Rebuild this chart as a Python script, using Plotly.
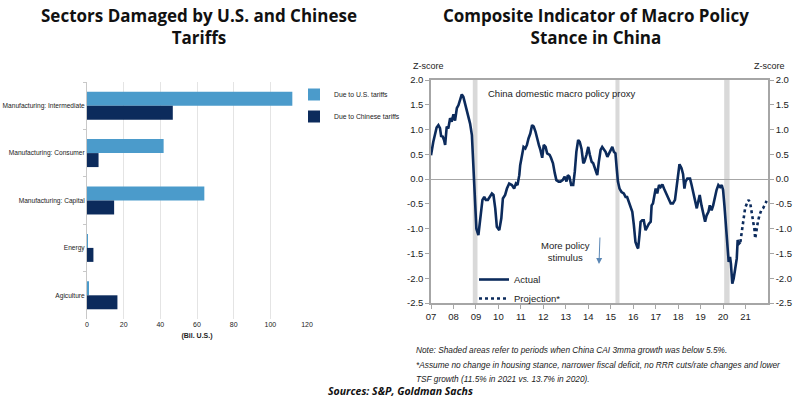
import plotly.graph_objects as go

# ---------------- Left chart data ----------------
sectors = ["Manufacturing: Intermediate", "Manufacturing: Consumer",
           "Manufacturing: Capital", "Energy", "Agiculture"]
us_tariffs = [112, 41.8, 64, 0.4, 0.8]
cn_tariffs = [46.8, 6.3, 14.8, 3.5, 16.6]
bar_ticks = [0, 20, 40, 60, 80, 100, 120]

# ---------------- Right chart data ----------------
actual_x = [2007.00, 2007.10, 2007.25, 2007.33, 2007.40, 2007.45, 2007.52, 2007.58, 2007.63, 2007.70,
            2007.77, 2007.85, 2007.92, 2008.00, 2008.07, 2008.15, 2008.22, 2008.30, 2008.37, 2008.44,
            2008.52, 2008.64, 2008.74, 2008.82, 2008.86, 2008.92, 2008.96, 2009.02, 2009.11, 2009.19,
            2009.29, 2009.37, 2009.44, 2009.53, 2009.63, 2009.71, 2009.78, 2009.86, 2009.93, 2010.04,
            2010.13, 2010.20, 2010.30, 2010.38, 2010.48, 2010.60, 2010.70, 2010.78, 2010.85, 2010.93,
            2010.97, 2011.05, 2011.12, 2011.20, 2011.27, 2011.34, 2011.42, 2011.50, 2011.57, 2011.65,
            2011.72, 2011.80, 2011.87, 2011.95, 2012.02, 2012.10, 2012.17, 2012.28, 2012.34, 2012.43,
            2012.51, 2012.58, 2012.68, 2012.76, 2012.86, 2012.95, 2013.03, 2013.09, 2013.16, 2013.24,
            2013.33, 2013.40, 2013.47, 2013.55, 2013.62, 2013.70, 2013.78, 2013.83, 2013.92, 2014.00,
            2014.07, 2014.15, 2014.22, 2014.32, 2014.40, 2014.47, 2014.55, 2014.62, 2014.70, 2014.77,
            2014.85, 2014.92, 2015.00, 2015.07, 2015.14, 2015.21, 2015.26, 2015.32, 2015.39, 2015.48,
            2015.58, 2015.66, 2015.73, 2015.80, 2015.88, 2015.96, 2016.03, 2016.10, 2016.18, 2016.22,
            2016.28, 2016.33, 2016.40, 2016.47, 2016.55, 2016.62, 2016.70, 2016.78, 2016.82, 2016.88,
            2016.94, 2017.00, 2017.07, 2017.15, 2017.22, 2017.30, 2017.37, 2017.45, 2017.52, 2017.60,
            2017.67, 2017.77, 2017.86, 2017.93, 2018.00, 2018.06, 2018.15, 2018.22, 2018.28, 2018.33,
            2018.41, 2018.53, 2018.60, 2018.68, 2018.75, 2018.83, 2018.89, 2018.96, 2019.04, 2019.11,
            2019.20, 2019.27, 2019.35, 2019.41, 2019.49, 2019.56, 2019.64, 2019.71, 2019.79, 2019.87,
            2019.94, 2020.00, 2020.06, 2020.13, 2020.21, 2020.25, 2020.31, 2020.35, 2020.41, 2020.47,
            2020.54, 2020.61, 2020.65, 2020.71, 2020.77]
actual_y = [0.48, 0.75, 1.04, 1.09, 1.03, 0.87, 0.86, 0.79, 0.69, 1.06,
            1.02, 1.23, 1.16, 1.31, 1.18, 1.43, 1.49, 1.60, 1.71, 1.66,
            1.53, 1.33, 1.12, 0.89, 0.48, -0.05, -0.59, -1.00, -1.13, -0.79,
            -0.42, -0.36, -0.42, -0.42, -0.36, -0.29, -0.32, -0.59, -0.96, -1.03,
            -0.79, -0.39, -0.32, -0.19, -0.09, -0.12, -0.19, -0.09, -0.12, 0.08,
            0.28, 0.45, 0.65, 0.62, 0.69, 0.82, 0.92, 1.09, 1.06, 0.96,
            0.82, 0.69, 0.59, 0.43, 0.69, 0.65, 0.52, 0.49, 0.43, 0.32,
            0.12, -0.02, -0.05, -0.05, -0.02, 0.05, -0.05, 0.08, 0.05, -0.12,
            -0.12, 0.15, 0.55, 0.79, 0.75, 0.61, 0.32, 0.35, 0.49, 0.65,
            0.49, 0.35, 0.32, 0.20, 0.08, 0.35, 0.59, 0.65, 0.59, 0.55,
            0.45, 0.52, 0.59, 0.65, 0.55, 0.52, 0.25, -0.05, -0.19, -0.26,
            -0.29, -0.36, -0.36, -0.46, -0.56, -0.66, -0.93, -1.27, -1.37, -1.40,
            -1.13, -0.86, -0.83, -0.83, -1.03, -0.96, -0.90, -0.86, -0.53, -0.49,
            -0.32, -0.19, -0.29, -0.12, -0.16, -0.11, -0.19, -0.26, -0.32, -0.42,
            -0.49, -0.49, -0.42, -0.16, 0.15, 0.30, 0.22, 0.10, -0.19, -0.05,
            0.01, 0.01, -0.12, -0.29, -0.46, -0.59, -0.46, -0.32, -0.53, -0.69,
            -0.86, -0.73, -0.66, -0.53, -0.63, -0.53, -0.36, -0.22, -0.12, -0.16,
            -0.12, -0.22, -0.53, -0.93, -1.27, -1.67, -1.57, -1.71, -2.11, -2.01,
            -1.81, -1.60, -1.23, -1.30, -1.27]
proj_x = [2020.77, 2020.85, 2020.90, 2020.98, 2021.06, 2021.14, 2021.21, 2021.28, 2021.34,
          2021.40, 2021.43, 2021.49, 2021.55, 2021.62, 2021.70, 2021.78, 2021.85, 2021.94]
proj_y = [-1.27, -1.00, -0.76, -0.59, -0.49, -0.42, -0.49, -0.66, -0.86,
          -1.03, -1.20, -1.00, -0.86, -0.73, -0.63, -0.59, -0.53, -0.44]
shade_start = [2008.86, 2015.21, 2020.05]
shade_end = [2009.07, 2015.39, 2020.29]
year_ticks = list(range(2007, 2022))
year_labels = ["07", "08", "09", "10", "11", "12", "13", "14", "15", "16", "17", "18", "19", "20", "21"]
z_ticks = [2.0, 1.5, 1.0, 0.5, 0.0, -0.5, -1.0, -1.5, -2.0, -2.5]
z_labels = ["2.0", "1.5", "1.0", "0.5", "0.0", "-0.5", "-1.0", "-1.5", "-2.0", "-2.5"]

# ---------------- styling ----------------
W, H = 800, 397
def px(x):
    return x / W
def py(y):
    return 1 - y / H

SANS = "Liberation Sans, Arial, sans-serif"
TITLE_FONT = "Open Sans, Noto Sans, sans-serif"
US_COLOR = "#4b9bcb"
CN_COLOR = "#0c2b5c"
LINE_COLOR = "#0c2b5c"
AX_COLOR = "#a6a6a6"
TXT = "#222222"

fig = go.Figure()

fig.add_trace(go.Bar(y=sectors, x=us_tariffs, orientation="h", name="Due to U.S. tariffs",
                     marker=dict(color=US_COLOR, line=dict(width=0)), xaxis="x", yaxis="y",
                     legend="legend", legendgroup="a"))
fig.add_trace(go.Bar(y=sectors, x=cn_tariffs, orientation="h", name="Due to Chinese tariffs",
                     marker=dict(color=CN_COLOR, line=dict(width=0)), xaxis="x", yaxis="y",
                     legend="legend", legendgroup="b"))

fig.add_trace(go.Scatter(x=actual_x, y=actual_y, mode="lines", name="Actual",
                         line=dict(color=LINE_COLOR, width=2.6), xaxis="x2", yaxis="y2",
                         legend="legend2"))
fig.add_trace(go.Scatter(x=proj_x, y=proj_y, mode="lines", name="Projection*",
                         line=dict(color=LINE_COLOR, width=2.6, dash="dot"), xaxis="x2", yaxis="y2",
                         legend="legend2"))
# invisible helper so the right-hand axis is drawn
fig.add_trace(go.Scatter(x=actual_x, y=actual_y, mode="lines", line=dict(width=0),
                         opacity=0, showlegend=False, hoverinfo="skip", xaxis="x2", yaxis="y3"))

shapes = []
for s, e in zip(shade_start, shade_end):
    shapes.append(dict(type="rect", xref="x2", yref="y2 domain", x0=s, x1=e, y0=0, y1=1,
                       fillcolor="#d9d9d9", line=dict(width=0), layer="below"))

def note(text, y):
    return dict(text="<i>" + text + "</i>", x=px(414), y=py(y), xref="paper", yref="paper",
                xanchor="left", yanchor="middle", align="left", showarrow=False,
                font=dict(family=SANS, size=8.3, color=TXT))

annotations = [
    dict(text="<b>Sectors Damaged by U.S. and Chinese<br>Tariffs</b>", x=px(199), y=py(26),
         xref="paper", yref="paper", xanchor="center", yanchor="middle", showarrow=False,
         font=dict(family=TITLE_FONT, size=17, color="#111111")),
    dict(text="<b>Composite Indicator of Macro Policy<br>Stance in China</b>", x=px(596), y=py(26),
         xref="paper", yref="paper", xanchor="center", yanchor="middle", showarrow=False,
         font=dict(family=TITLE_FONT, size=17, color="#111111")),
    dict(text="Z-score", x=px(428), y=py(66), xref="paper", yref="paper", xanchor="center",
         yanchor="middle", showarrow=False, font=dict(family=SANS, size=9, color=TXT)),
    dict(text="Z-score", x=px(769), y=py(66), xref="paper", yref="paper", xanchor="center",
         yanchor="middle", showarrow=False, font=dict(family=SANS, size=9, color=TXT)),
    dict(text="China domestic macro policy proxy", x=px(486), y=py(94), xref="paper", yref="paper",
         xanchor="left", yanchor="middle", showarrow=False,
         font=dict(family=SANS, size=9.5, color=TXT)),
    dict(text="More policy<br>stimulus", x=px(565), y=py(251), xref="paper", yref="paper",
         xanchor="center", yanchor="middle", showarrow=False,
         font=dict(family=SANS, size=9.5, color=TXT)),
    dict(text="", x=px(599), y=py(264), xref="paper", yref="paper", ax=1, ay=-28,
         axref="pixel", ayref="pixel", showarrow=True, arrowhead=2, arrowsize=1.2, arrowwidth=1,
         arrowcolor="#5b87b5"),
    note("Note: Shaded areas refer to periods when China CAI 3mma growth was below 5.5%.", 350),
    note("*Assume no change in housing stance, narrower fiscal deficit, no RRR cuts/rate changes and lower", 365),
    note("TSF growth (11.5% in 2021 vs. 13.7% in 2020).", 378.5),
    dict(text="<b><i>Sources: S&amp;P, Goldman Sachs</i></b>", x=px(400), y=py(391), xref="paper",
         yref="paper", xanchor="center", yanchor="middle", showarrow=False,
         font=dict(family=TITLE_FONT, size=10.5, color="#111111")),
]

fig.update_layout(
    width=W, height=H, margin=dict(l=0, r=0, t=0, b=0, autoexpand=False),
    paper_bgcolor="white", plot_bgcolor="white",
    barmode="group", bargap=0.41, bargroupgap=0,
    font=dict(family=SANS, color=TXT),
    xaxis=dict(domain=[px(87), px(307)], range=[0, 120], tickvals=bar_ticks, anchor="y",
               showgrid=True, gridcolor="#e4e4e4", gridwidth=1, zeroline=False, showline=False,
               ticks="", tickfont=dict(size=7, family=SANS), automargin=False,
               title=dict(text="<b>(Bil. U.S.)</b>", font=dict(size=7, family=SANS), standoff=6)),
    yaxis=dict(domain=[py(319), py(82)], autorange="reversed", type="category", anchor="x",
               showline=True, linecolor="#c8c8c8", linewidth=1, ticks="outside", ticklen=3,
               tickcolor="#c8c8c8", tickson="boundaries", showgrid=False, automargin=False,
               tickfont=dict(size=6.6, family=SANS)),
    xaxis2=dict(domain=[px(431), px(768)], range=[2007, 2022], anchor="y2",
                tickvals=year_ticks, ticktext=year_labels, ticks="outside", ticklen=4,
                tickcolor=AX_COLOR, showline=True, linecolor=AX_COLOR, linewidth=1.5, mirror=True,
                showgrid=False, zeroline=False, automargin=False,
                tickfont=dict(size=9.5, family=SANS)),
    yaxis2=dict(domain=[py(303), py(80)], range=[-2.5, 2.0], anchor="x2", tickvals=z_ticks,
                ticktext=z_labels, ticks="outside", ticklen=4, tickcolor=AX_COLOR,
                showline=True, linecolor=AX_COLOR, linewidth=1.5, showgrid=False,
                zeroline=True, zerolinecolor=AX_COLOR, zerolinewidth=1.2, automargin=False,
                tickfont=dict(size=9.5, family=SANS)),
    yaxis3=dict(range=[-2.5, 2.0], overlaying="y2", side="right", anchor="x2", tickvals=z_ticks,
                ticktext=z_labels, ticks="outside", ticklen=4, tickcolor=AX_COLOR,
                showline=True, linecolor=AX_COLOR, linewidth=1.5, showgrid=False, zeroline=False,
                automargin=False, tickfont=dict(size=9.5, family=SANS)),
    legend=dict(x=px(294), y=py(80), xanchor="left", yanchor="top", bgcolor="rgba(0,0,0,0)",
                font=dict(size=6.8, family=SANS), traceorder="grouped", tracegroupgap=3,
                itemwidth=30),
    legend2=dict(x=px(474), y=py(265), xanchor="left", yanchor="top", bgcolor="rgba(0,0,0,0)",
                 font=dict(size=9.5, family=SANS), tracegroupgap=0, itemwidth=30),
    shapes=shapes, annotations=annotations,
)

fig.write_html("out.html", config={"displayModeBar": False},
               post_script="document.body.style.margin='0';document.body.style.padding='0';")
